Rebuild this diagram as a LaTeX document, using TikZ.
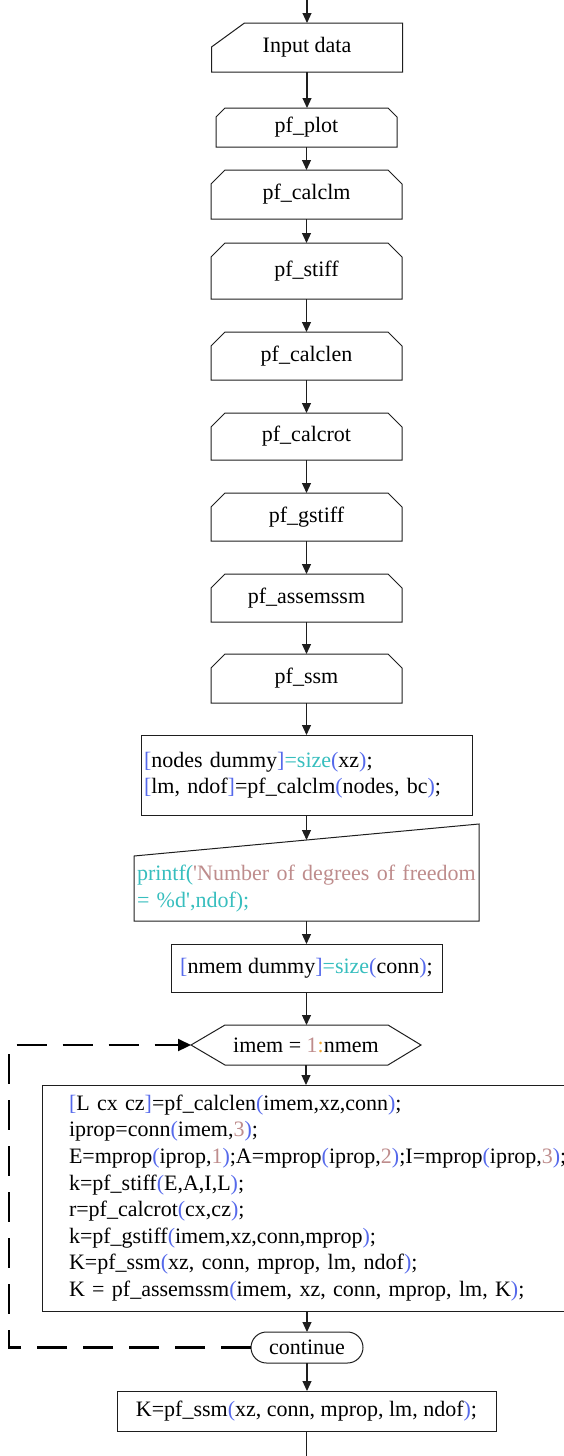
\documentclass[tikz,border=0pt]{standalone}
\usepackage{fontspec}
\newfontfamily\tnr{Liberation Serif}
\usetikzlibrary{arrows.meta}
\definecolor{cblue}{RGB}{85,105,235}
\definecolor{cteal}{RGB}{55,190,190}
\definecolor{crose}{RGB}{190,140,140}
\definecolor{corange}{RGB}{240,165,50}
\definecolor{cline}{RGB}{30,30,30}
\newcommand\CBl[1]{\textcolor{cblue}{#1}}
\newcommand\CTe[1]{\textcolor{cteal}{#1}}
\newcommand\CRo[1]{\textcolor{crose}{#1}}
\newcommand\COr[1]{\textcolor{corange}{#1}}
\tikzset{
  every node/.style={font=\tnr\fontsize{22}{26.6}\selectfont, inner sep=0pt, outer sep=0pt},
  outl/.style={draw=cline, line width=1pt, line join=miter},
  arr/.style={draw=cline, line width=1.1pt, -{Triangle[length=10pt,width=9pt]}},
  loopline/.style={draw=black, line width=2.2pt, dash pattern=on 30pt off 16pt, -{Triangle[length=13pt,width=12pt]}},
  procbox/.style={draw=none, minimum width=191pt},
}
\newcommand\chamfer[2]{% node, cut
  \draw[outl] (#1.south west) -- ([yshift=-#2]#1.north west) -- ([xshift=#2]#1.north west)
    -- ([xshift=-#2]#1.north east) -- ([yshift=-#2]#1.north east) -- (#1.south east) -- cycle;}
\begin{document}
\begin{tikzpicture}[x=1pt,y=-1pt]
\useasboundingbox (0,0) rectangle (564,1456);
% nodes
\node[procbox, minimum height=49pt] (in) at (307,47.5) {Input data};
\node[procbox, minimum width=181pt, minimum height=39pt] (plot) at (306.5,127.5) {pf\_plot};
\node[procbox, minimum height=49pt] (calclm) at (306.5,194.5) {pf\_calclm};
\node[procbox, minimum height=56pt] (stiff) at (306.5,271) {pf\_stiff};
\node[procbox, minimum height=48pt] (calclen) at (306.5,356) {pf\_calclen};
\node[procbox, minimum height=47pt] (calcrot) at (306.5,436.5) {pf\_calcrot};
\node[procbox, minimum height=48pt] (gstiff) at (306.5,517) {pf\_gstiff};
\node[procbox, minimum height=48pt] (assem) at (306.5,598) {pf\_assemssm};
\node[procbox, minimum height=49pt] (ssm) at (306.5,678.5) {pf\_ssm};
\node[outl, minimum height=80pt, text width=325pt, inner xsep=3pt, align=left] (code1) at (306.5,775)
  {\CBl{[}nodes dummy\CBl{]}\CTe{=size}\CBl{(}xz\CBl{)};\\
   \CBl{[}lm, ndof\CBl{]}=pf\_calclm\CBl{(}nodes, bc\CBl{)};};
\node[minimum height=65pt, text width=339pt, inner xsep=3pt, align=left] (pr) at (306.5,888.5)
  {\CTe{printf(}\CRo{'Number of degrees of freedom}\\
   \CTe{= \%d',ndof);}};
\coordinate (prtop) at (306.5,840);
\node[outl, minimum width=271pt, minimum height=48pt] (nmem) at (306.5,968)
  {\CBl{[}nmem dummy\CBl{]}\CTe{=size}\CBl{(}conn\CBl{)};};
\node[minimum width=230pt, minimum height=40pt] (hex) at (306,1045)
  {imem = \CRo{1}\COr{:}nmem};
\node[outl, minimum width=525pt, minimum height=226pt, text width=471pt, inner xsep=27pt, align=left] (big) at (304.5,1198)
  {\CBl{[}L cx cz\CBl{]}=pf\_calclen\CBl{(}imem,xz,conn\CBl{)};\\
   iprop=conn\CBl{(}imem,\CRo{3}\CBl{)};\\
   E=mprop\CBl{(}iprop,\CRo{1}\CBl{)};A=mprop\CBl{(}iprop,\CRo{2}\CBl{)};I=mprop\CBl{(}iprop,\CRo{3}\CBl{)};\\
   k=pf\_stiff\CBl{(}E,A,I,L\CBl{)};\\
   r=pf\_calcrot\CBl{(}cx,cz\CBl{)};\\
   k=pf\_gstiff\CBl{(}imem,xz,conn,mprop\CBl{)};\\
   K=pf\_ssm\CBl{(}xz, conn, mprop, lm, ndof\CBl{)};\\
   K = pf\_assemssm\CBl{(}imem, xz, conn, mprop, lm, K\CBl{)};};
\node[outl, minimum width=112pt, minimum height=31pt, rounded corners=15.5pt] (cont) at (307,1347.5) {continue};
\node[outl, minimum width=379pt, minimum height=40pt] (fin) at (306.5,1411)
  {K=pf\_ssm\CBl{(}xz, conn, mprop, lm, ndof\CBl{)};};
% outlines
\draw[outl] (in.south west) -- ([yshift=-24pt]in.north west) -- ([xshift=33pt]in.north west)
  -- (in.north east) -- (in.south east) -- cycle;
\chamfer{plot}{9pt}
\chamfer{calclm}{14pt}
\chamfer{stiff}{14pt}
\chamfer{calclen}{14pt}
\chamfer{calcrot}{14pt}
\chamfer{gstiff}{14pt}
\chamfer{assem}{14pt}
\chamfer{ssm}{14pt}
\draw[outl] (pr.south west) -- (pr.north west) -- ([yshift=32pt]pr.north east) -- (pr.south east) -- cycle;
\draw[outl] (hex.west) -- ([xshift=34pt]hex.north west) -- ([xshift=-33pt]hex.north east) -- (hex.east)
  -- ([xshift=-33pt]hex.south east) -- ([xshift=34pt]hex.south west) -- cycle;
% connectors
\coordinate (top) at (307,0);
\coordinate (bot) at (306.5,1467);
\coordinate (loopx) at (9,0);
\draw[arr] (top) -- (in.north);
\draw[arr] (in.south) -- (in.south |- plot.north);
\draw[arr] (plot.south) -- (plot.south |- calclm.north);
\draw[arr] (calclm.south) -- (stiff.north);
\draw[arr] (stiff.south) -- (calclen.north);
\draw[arr] (calclen.south) -- (calcrot.north);
\draw[arr] (calcrot.south) -- (gstiff.north);
\draw[arr] (gstiff.south) -- (assem.north);
\draw[arr] (assem.south) -- (ssm.north);
\draw[arr] (ssm.south) -- (code1.north);
\draw[arr] (code1.south) -- (prtop);
\draw[arr] (pr.south) -- (nmem.north);
\draw[arr] (nmem.south) -- (nmem.south |- hex.north);
\draw[arr] (hex.south) -- (hex.south |- big.north);
\draw[arr] (cont.north |- big.south) -- (cont.north);
\draw[arr] (cont.south) -- (cont.south |- fin.north);
\draw[arr] (fin.south) -- (bot);
\draw[loopline] (cont.west) -- (cont.west -| loopx) |- (hex.west);
\end{tikzpicture}
\end{document}
